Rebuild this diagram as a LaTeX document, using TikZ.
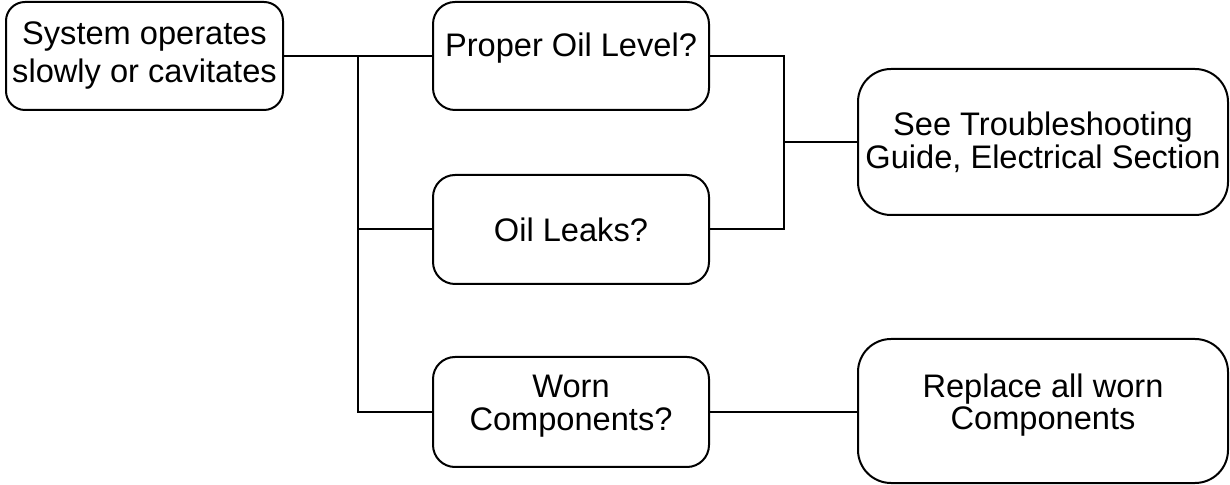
\documentclass[tikz,border=0pt]{standalone}
\usepackage{fontspec}
\setmainfont{Liberation Sans}
\usetikzlibrary{calc}

\begin{document}
\begin{tikzpicture}[x=0.5pt,y=-0.5pt,
	box/.style={draw=black, line width=1pt, rounded corners=11pt, align=center, inner sep=0pt,
		minimum width=138pt, minimum height=54.5pt, font=\fontsize{16.3}{16.3}\selectfont},
	bigbox/.style={box, rounded corners=16.5pt, minimum width=185pt, minimum height=73pt},
	wire/.style={line width=1pt}]

	% keep the page the size of the picture
	\useasboundingbox (0,0) rectangle (1230,485);
	% column centres
	\def\colA{144.5}
	\def\colB{571}
	\def\colC{1043}

	% the boxes
	\node[box, rounded corners=9.5pt, minimum width=138.5pt, minimum height=54pt,
		font=\fontsize{16.3}{19}\selectfont] (sys) at (\colA,56) {System operates\\slowly or cavitates};
	\node[box, minimum height=54pt, text depth=11.5pt] (lvl) at (\colB,56) {Proper Oil Level?};
	\node[box] (leaks) at (\colB,229.5) {Oil Leaks?};
	\node[box, minimum height=55pt, text depth=9.5pt] (worn) at (\colB,412) {Worn\\Components?};
	\node[bigbox] (guide) at (\colC,142) {See Troubleshooting\\Guide, Electrical Section};
	\node[bigbox, minimum height=72pt, text depth=9.5pt] (replace) at (\colC,411) {Replace all worn\\Components};

	% left hand tree
	\coordinate (split) at (358,56);
	\draw[wire] (sys.east) -- (lvl.west);
	\draw[wire] (split) |- (worn.west);
	\draw[wire] (split |- leaks.west) -- (leaks.west);

	% the two checks join up
	\coordinate (join) at (784,142);
	\draw[wire] (lvl.east) -| (join);
	\draw[wire] (leaks.east) -| (join);
	\draw[wire] (join) -- (guide.west);

	% worn parts
	\draw[wire] (worn.east) -- (worn.east -| replace.west);

\end{tikzpicture}
\end{document}
